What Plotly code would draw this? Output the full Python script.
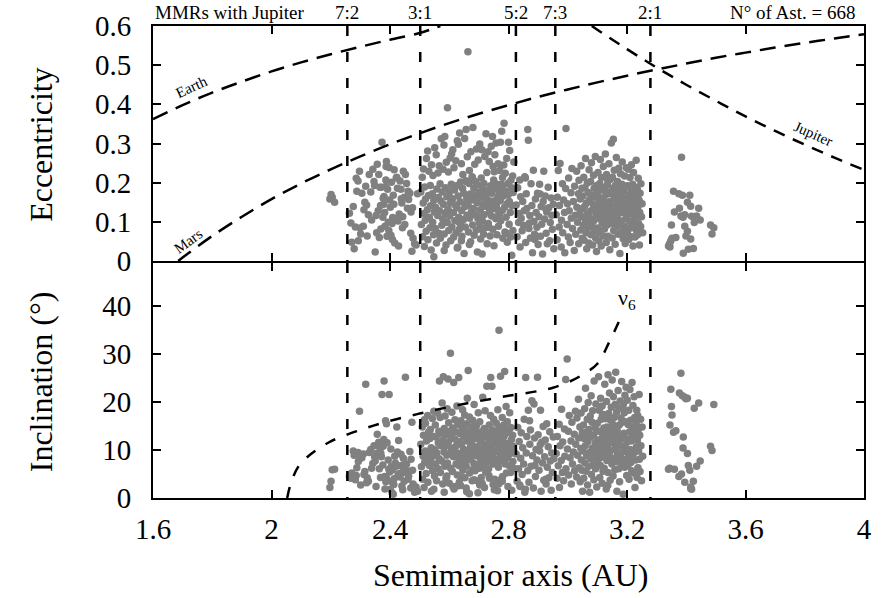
import numpy as np
import plotly.graph_objects as go

# ---------------------------------------------------------------------------
# Asteroid orbital elements, by region of the main belt.
# a in units of 0.001 AU, e in units of 0.001, i in units of 0.1 degree.
# ---------------------------------------------------------------------------
a_hun = [2197, 2201, 2213, 2205]
e_hun = [158, 170, 150, 163]
i_hun = [22, 35, 60, 59]

a_inner = [2263, 2271, 2283, 2297, 2305, 2318, 2330, 2342, 2357, 2366,
           2373, 2380, 2388, 2397, 2405, 2413, 2423, 2431, 2445, 2452,
           2467, 2474, 2488, 2268, 2279, 2292, 2310, 2323, 2338, 2350,
           2362, 2371, 2377, 2385, 2392, 2401, 2409, 2418, 2427, 2437,
           2448, 2459, 2471, 2483, 2276, 2288, 2301, 2315, 2327, 2346,
           2355, 2368, 2376, 2383, 2390, 2399, 2407, 2416, 2434, 2442,
           2456, 2463, 2478, 2493, 2286, 2299, 2312, 2335, 2353, 2364,
           2379, 2386, 2394, 2403, 2411, 2421, 2440, 2450, 2461, 2476,
           2293, 2321, 2348, 2369, 2382, 2396, 2414, 2429, 2443, 2470,
           2360, 2387, 2408, 2425, 2438]
e_inner = [122, 48, 87, 229, 173, 191, 221, 234, 247, 188,
           303, 165, 254, 239, 201, 145, 214, 120, 229, 221,
           173, 25, 41, 97, 31, 204, 89, 64, 105, 23,
           221, 188, 160, 190, 183, 137, 111, 105, 102, 183,
           163, 135, 125, 44, 139, 178, 69, 150, 118, 203,
           72, 142, 112, 89, 63, 156, 96, 46, 204, 85,
           198, 157, 58, 172, 211, 84, 131, 176, 116, 60,
           145, 207, 99, 66, 168, 212, 148, 93, 178, 136,
           52, 143, 193, 82, 124, 78, 233, 38, 113, 71,
           128, 241, 55, 186, 159]
i_inner = [45, 52, 38, 181, 84, 237, 95, 72, 133, 104,
           216, 244, 155, 216, 66, 28, 148, 51, 83, 252,
           97, 158, 23, 41, 89, 95, 92, 42, 62, 77,
           116, 86, 108, 161, 37, 18, 59, 73, 48, 91,
           35, 57, 81, 12, 98, 63, 27, 55, 35, 109,
           93, 43, 69, 19, 115, 54, 11, 87, 44, 65,
           71, 46, 29, 14, 47, 83, 49, 101, 24, 61,
           122, 34, 79, 102, 8, 66, 25, 53, 39, 58,
           76, 32, 86, 94, 45, 60, 40, 120, 17, 21,
           110, 44, 33, 96, 68]

a_middle = [2504, 2506, 2509, 2510, 2512, 2513, 2515, 2516, 2517, 2519,
            2520, 2522, 2523, 2526, 2527, 2528, 2530, 2531, 2533, 2535,
            2536, 2537, 2539, 2540, 2543, 2544, 2545, 2547, 2548, 2550,
            2551, 2553, 2554, 2556, 2557, 2558, 2561, 2562, 2563, 2565,
            2566, 2567, 2569, 2570, 2572, 2573, 2575, 2576, 2578, 2579,
            2580, 2582, 2583, 2585, 2586, 2587, 2589, 2590, 2592, 2593,
            2594, 2596, 2597, 2598, 2600, 2601, 2603, 2604, 2605, 2607,
            2608, 2609, 2611, 2612, 2614, 2615, 2616, 2618, 2619, 2620,
            2622, 2623, 2624, 2626, 2627, 2629, 2630, 2631, 2632, 2634,
            2635, 2637, 2638, 2639, 2641, 2642, 2643, 2645, 2646, 2648,
            2649, 2650, 2652, 2653, 2654, 2656, 2657, 2659, 2660, 2661,
            2663, 2664, 2665, 2667, 2668, 2669, 2671, 2672, 2673, 2675,
            2676, 2677, 2679, 2680, 2682, 2683, 2684, 2686, 2687, 2688,
            2690, 2691, 2692, 2694, 2695, 2697, 2698, 2699, 2701, 2702,
            2703, 2705, 2706, 2708, 2709, 2710, 2712, 2713, 2714, 2716,
            2717, 2718, 2720, 2721, 2723, 2724, 2725, 2727, 2728, 2729,
            2731, 2732, 2733, 2735, 2736, 2738, 2739, 2740, 2742, 2743,
            2744, 2746, 2747, 2748, 2750, 2751, 2753, 2754, 2755, 2757,
            2758, 2759, 2761, 2762, 2764, 2765, 2766, 2768, 2769, 2770,
            2772, 2773, 2774, 2776, 2777, 2779, 2780, 2781, 2783, 2784,
            2785, 2787, 2788, 2789, 2791, 2792, 2794, 2795, 2796, 2798,
            2799, 2800, 2802, 2803, 2804, 2806, 2807, 2808, 2810, 2811,
            2812, 2814, 2815, 2816, 2818, 2548, 2583, 2627, 2668, 2711,
            2592, 2634, 2657, 2684, 2703, 2736, 2752, 2767, 2779, 2793,
            2612, 2641, 2659, 2678, 2697, 2719, 2734, 2748, 2763, 2776]
e_middle = [176, 93, 214, 62, 148, 235, 121, 37, 189, 104,
            158, 76, 262, 131, 281, 54, 167, 229, 112, 85,
            193, 141, 28, 246, 172, 99, 218, 67, 155, 125,
            289, 83, 137, 271, 46, 184, 116, 225, 162, 71,
            243, 128, 197, 58, 153, 312, 91, 176, 107, 234,
            145, 296, 69, 318, 122, 187, 41, 252, 164, 98,
            391, 133, 227, 78, 174, 115, 263, 149, 52, 196,
            273, 87, 159, 284, 124, 61, 238, 181, 103, 143,
            256, 72, 192, 136, 307, 35, 166, 298, 112, 81,
            327, 151, 202, 94, 248, 129, 63, 185, 221, 106,
            173, 19, 313, 139, 87, 205, 336, 161, 117, 266,
            534, 142, 74, 198, 231, 109, 171, 49, 279, 126,
            156, 215, 92, 341, 134, 186, 66, 247, 118, 203,
            168, 79, 286, 149, 23, 194, 258, 113, 175, 97,
            299, 131, 56, 212, 162, 284, 102, 183, 144, 68,
            198, 118, 267, 85, 171, 325, 139, 226, 44, 157,
            279, 96, 181, 254, 126, 64, 192, 147, 293, 115,
            173, 318, 81, 153, 207, 39, 134, 271, 186, 108,
            301, 142, 67, 196, 163, 248, 89, 177, 119, 231,
            154, 303, 103, 187, 331, 129, 213, 58, 166, 245,
            352, 137, 74, 224, 179, 112, 262, 146, 48, 198,
            169, 303, 94, 152, 282, 124, 61, 206, 187, 15,
            141, 217, 78, 175, 253, 11, 27, 33, 42, 18,
            126, 98, 203, 162, 82, 135, 228, 117, 191, 71,
            184, 52, 147, 213, 108, 169, 86, 241, 131, 196]
i_middle = [112, 65, 148, 39, 87, 131, 22, 163, 74, 98,
            156, 51, 119, 84, 172, 33, 137, 92, 68, 124,
            143, 78, 105, 14, 166, 57, 129, 88, 181, 46,
            101, 152, 71, 127, 36, 94, 177, 61, 115, 139,
            82, 244, 168, 53, 109, 135, 77, 198, 29, 121,
            253, 96, 145, 66, 171, 108, 41, 132, 89, 186,
            73, 248, 117, 157, 31, 139, 94, 302, 62, 128,
            104, 179, 55, 146, 86, 241, 19, 123, 163, 97,
            138, 71, 109, 192, 48, 154, 84, 118, 251, 67,
            93, 134, 26, 161, 113, 75, 147, 184, 58, 102,
            127, 87, 173, 42, 141, 98, 66, 155, 119, 208,
            79, 266, 136, 94, 169, 52, 125, 107, 83, 148,
            114, 36, 162, 91, 133, 72, 195, 104, 57, 143,
            88, 124, 151, 69, 107, 11, 178, 96, 135, 62,
            159, 82, 117, 43, 138, 101, 74, 210, 126, 92,
            68, 145, 106, 182, 54, 129, 88, 233, 113, 76,
            137, 95, 61, 152, 118, 84, 172, 251, 103, 128,
            233, 89, 142, 71, 164, 112, 39, 97, 136, 81,
            119, 156, 72, 98, 184, 127, 64, 350, 109, 146,
            91, 254, 77, 134, 103, 168, 45, 117, 87, 152,
            128, 264, 96, 71, 143, 191, 108, 83, 159, 24,
            114, 89, 136, 67, 178, 102, 53, 147, 122, 16,
            94, 131, 76, 108, 62, 18, 12, 25, 9, 31,
            46, 33, 21, 38, 27, 41, 17, 29, 35, 52,
            24, 44, 13, 59, 35, 22, 47, 28, 15, 39]

a_pristine = [2826, 2829, 2831, 2834, 2836, 2839, 2841, 2843, 2846, 2848,
              2851, 2853, 2855, 2858, 2860, 2862, 2865, 2867, 2869, 2872,
              2874, 2876, 2879, 2881, 2884, 2886, 2888, 2891, 2893, 2896,
              2898, 2900, 2903, 2905, 2908, 2910, 2912, 2915, 2917, 2919,
              2922, 2924, 2927, 2929, 2931, 2934, 2936, 2939, 2941, 2944,
              2946, 2948, 2951, 2953, 2838, 2857, 2871, 2889, 2907, 2926]
e_pristine = [143, 62, 187, 98, 121, 36, 164, 109, 77, 152,
              91, 128, 215, 47, 172, 134, 336, 308, 83, 116,
              59, 197, 142, 21, 232, 101, 68, 158, 124, 86,
              173, 42, 113, 196, 63, 139, 94, 18, 152, 229,
              107, 166, 71, 125, 44, 188, 136, 52, 98, 161,
              117, 81, 145, 31, 207, 212, 97, 55, 171, 133]
i_pristine = [92, 35, 147, 61, 118, 24, 83, 136, 49, 105,
              71, 164, 12, 251, 94, 128, 57, 183, 33, 112,
              142, 66, 203, 88, 21, 196, 125, 45, 101, 79,
              252, 132, 58, 98, 183, 14, 116, 73, 149, 37,
              86, 121, 29, 155, 64, 107, 42, 138, 77, 16,
              94, 53, 127, 82, 27, 18, 161, 68, 111, 39]

a_outer = [2961, 2964, 2965, 2968, 2971, 2972, 2974, 2978, 2979, 2982, 2983, 2986, 2989, 2990, 2993,
           2994, 2998, 2999, 3002, 3003, 3005, 3008, 3011, 3012, 3014, 3016, 3019, 3022, 3023, 3026,
           3027, 3030, 3031, 3033, 3036, 3037, 3038, 3041, 3042, 3044, 3045, 3046, 3048, 3049, 3050,
           3051, 3053, 3054, 3055, 3057, 3058, 3059, 3060, 3062, 3063, 3064, 3066, 3067, 3068, 3069,
           3071, 3072, 3073, 3074, 3076,
           3077, 3078, 3079, 3080, 3082, 3083, 3084, 3086, 3087, 3088, 3089, 3090, 3092, 3093, 3094,
           3095, 3096, 3097, 3098, 3099,
           3100, 3102, 3102, 3104, 3105, 3106, 3108, 3108, 3110, 3111, 3112, 3113, 3114, 3116, 3116,
           3118, 3119, 3120, 3121, 3122,
           3123, 3124, 3125, 3127, 3127, 3129, 3130, 3131, 3132, 3133, 3134, 3136, 3136, 3138, 3139,
           3140, 3141, 3142, 3143, 3145,
           3145, 3147, 3147, 3149, 3150, 3151, 3152, 3153, 3154, 3155, 3157, 3157, 3159, 3160, 3161,
           3162, 3163, 3164, 3165, 3166,
           3167, 3168, 3170, 3170, 3172, 3173, 3174, 3175, 3176, 3177, 3178, 3180, 3181, 3182, 3183,
           3184, 3185, 3187, 3188, 3189,
           3190, 3191, 3192, 3193, 3194, 3195, 3196, 3197, 3198, 3199, 3186, 3179, 3158, 3135, 3117,
           3200, 3201, 3203, 3204, 3205, 3206, 3207, 3209, 3210, 3211, 3212, 3213, 3215, 3216, 3217,
           3218, 3219, 3220, 3221, 3222, 3224, 3225, 3226, 3227, 3228, 3229, 3231, 3232, 3233, 3234,
           3235, 3236, 3237, 3238, 3239, 3241, 3242, 3243, 3244, 3246, 3247, 3249, 3251, 3253, 3214]
e_outer = [118, 54, 163, 231, 87, 142, 249, 36, 104, 197, 72, 156, 124, 21, 185,
           338, 93, 146, 61, 212, 128, 47, 174, 109, 236, 83, 152, 27, 191, 117,
           68, 229, 137, 99, 172, 44, 206, 121, 158, 79, 243, 113, 186, 58, 134,
           166, 91, 214, 53, 139, 187, 106, 262, 72, 148, 31, 199, 122, 85, 175,
           46, 233, 112, 157, 97,
           203, 67, 128, 251, 89, 168, 41, 144, 219, 103, 186, 76, 131, 267, 59,
           162, 118, 24, 193, 138,
           84, 175, 226, 109, 52, 147, 198, 73, 259, 126, 161, 38, 213, 97, 182,
           131, 64, 241, 115, 153,
           187, 82, 136, 273, 104, 169, 47, 221, 143, 92, 195, 122, 63, 176, 248,
           109, 151, 29, 208, 133,
           96, 171, 301, 138, 59, 214, 117, 186, 311, 78, 159, 232, 105, 43, 193,
           142, 87, 264, 125, 174,
           112, 203, 68, 156, 237, 91, 184, 131, 19, 167, 223, 102, 148, 74, 196,
           253, 123, 57, 178, 139,
           161, 88, 217, 129, 45, 191, 107, 152, 238, 71, 132, 183, 96, 206, 114,
           146, 73, 192, 118, 234, 55, 167, 101, 213, 136, 84, 179, 246, 62, 154,
           121, 196, 38, 143, 226, 93, 171, 109, 61, 188, 134, 257, 78, 159, 114,
           182, 67, 139, 211, 96, 155, 41, 124, 173, 88, 197, 113, 146, 72, 128]
i_outer = [93, 41, 128, 67, 154, 22, 109, 78, 185, 53, 117, 36, 144, 87, 247,
           61, 290, 102, 139, 48, 172, 84, 119, 29, 158, 71, 96, 133, 57, 181,
           112, 44, 167, 89, 206, 125, 63, 148, 34, 103, 177, 79, 58, 136, 14,
           98, 152, 41, 124, 186, 73, 109, 229, 56, 137, 88, 164, 27, 118, 199,
           66, 143, 95, 12, 171,
           127, 82, 213, 49, 158, 104, 182, 69, 131, 38, 244, 92, 147, 115, 61,
           196, 83, 139, 23, 108,
           156, 74, 121, 253, 97, 183, 43, 139, 68, 208, 112, 164, 85, 31, 192,
           129, 56, 174, 101, 146,
           62, 118, 237, 91, 165, 134, 19, 201, 78, 148, 109, 257, 53, 176, 124,
           88, 219, 142, 37, 162,
           99, 189, 131, 71, 246, 115, 154, 46, 211, 83, 137, 168, 59, 195, 104,
           262, 127, 76, 179, 14,
           141, 93, 224, 116, 61, 187, 152, 34, 129, 202, 86, 167, 108, 243, 72,
           158, 123, 8, 196, 97,
           135, 178, 64, 214, 106, 159, 81, 231, 123, 47, 188, 94, 145, 26, 172,
           117, 204, 67, 153, 92, 183, 39, 138, 226, 101, 162, 74, 119, 57, 241,
           86, 147, 193, 52, 128, 211, 95, 168, 22, 134, 79, 156, 107, 183, 43,
           121, 172, 63, 143, 98, 216, 81, 131, 55, 164, 109, 36, 148, 87, 125]

a_cybele = [3340, 3344, 3345, 3348, 3350, 3352, 3357, 3360, 3365, 3375, 3377, 3382,
            3384, 3387, 3389, 3390, 3395, 3395, 3399, 3404, 3404, 3407, 3412, 3415,
            3415, 3418, 3424, 3427, 3435, 3442, 3447, 3482, 3487, 3493]
e_cybele = [38, 45, 36, 52, 92, 58, 178, 125, 60, 172, 135, 115,
            265, 168, 112, 20, 118, 89, 64, 150, 76, 30, 168, 140,
            56, 114, 32, 98, 115, 135, 105, 92, 69, 85]
i_cybele = [60, 62, 152, 227, 191, 173, 137, 60, 140, 45, 219, 260,
            50, 213, 104, 127, 33, 210, 207, 208, 93, 68, 58, 20,
            23, 18, 35, 187, 66, 198, 77, 108, 99, 195]

# Mean-motion resonances with Jupiter
mmr_labels = ["7:2", "3:1", "5:2", "7:3", "2:1"]
mmr_a = [2.256, 2.502, 2.825, 2.958, 3.279]

# Planet-crossing boundaries (a in AU, e)
earth_a = [1.60, 1.70, 1.80, 1.90, 2.00, 2.10, 2.20, 2.30, 2.40, 2.50, 2.57]
earth_e = [0.362, 0.398, 0.430, 0.458, 0.484, 0.507, 0.528, 0.547, 0.565, 0.582, 0.600]
mars_a = [1.685, 1.70, 1.80, 1.90, 2.00, 2.10, 2.20, 2.30, 2.40, 2.50, 2.60, 2.70, 2.80,
          2.90, 3.00, 3.10, 3.20, 3.30, 3.40, 3.50, 3.60, 3.70, 3.80, 3.90, 4.00]
mars_e = [0.000, 0.009, 0.064, 0.113, 0.158, 0.198, 0.234, 0.267, 0.298, 0.326, 0.352, 0.376,
          0.398, 0.419, 0.438, 0.456, 0.473, 0.489, 0.504, 0.519, 0.532, 0.545, 0.557,
          0.568, 0.579]
jup_a = [3.081, 3.20, 3.30, 3.40, 3.50, 3.60, 3.70, 3.80, 3.90, 4.00]
jup_e = [0.600, 0.541, 0.494, 0.450, 0.409, 0.369, 0.332, 0.297, 0.264, 0.2325]

# nu6 secular resonance (a in AU, i in degrees)
nu6_a = [2.053, 2.065, 2.09, 2.13, 2.20, 2.30, 2.40, 2.50, 2.60, 2.70, 2.80, 2.90,
         2.95, 3.00, 3.05, 3.10, 3.14, 3.18]
nu6_i = [0.0, 3.0, 6.5, 9.0, 11.8, 14.2, 16.1, 17.6, 19.0, 20.2, 21.3, 22.3,
         23.0, 24.1, 25.7, 28.0, 32.5, 37.8]

x_ticks = [1.6, 2.0, 2.4, 2.8, 3.2, 3.6, 4.0]
x_ticktext = ["1.6", "2", "2.4", "2.8", "3.2", "3.6", "4"]
e_ticks = [0, 0.1, 0.2, 0.3, 0.4, 0.5, 0.6]
e_ticktext = ["0", "0.1", "0.2", "0.3", "0.4", "0.5", "0.6"]
i_ticks = [0, 10, 20, 30, 40]

# ---------------------------------------------------------------------------
groups = [(a_hun, e_hun, i_hun), (a_inner, e_inner, i_inner),
          (a_middle, e_middle, i_middle), (a_pristine, e_pristine, i_pristine),
          (a_outer, e_outer, i_outer), (a_cybele, e_cybele, i_cybele)]
for ga, ge, gi in groups:
    assert len(ga) == len(ge) == len(gi)
a_all = np.concatenate([np.array(g[0]) for g in groups]) / 1000.0
e_all = np.concatenate([np.array(g[1]) for g in groups]) / 1000.0
i_all = np.concatenate([np.array(g[2]) for g in groups]) / 10.0
n_ast = len(a_all)

FONT = "Liberation Serif"
GRAY = "#808080"
fig = go.Figure()

marker = dict(color=GRAY, size=7.5, line=dict(width=0))
fig.add_trace(go.Scatter(x=a_all, y=e_all, mode="markers", marker=marker,
                         xaxis="x", yaxis="y", showlegend=False))
fig.add_trace(go.Scatter(x=a_all, y=i_all, mode="markers", marker=marker,
                         xaxis="x2", yaxis="y2", showlegend=False))

# resonance lines in both panels
for a_res in mmr_a:
    fig.add_trace(go.Scatter(x=[a_res, a_res], y=[0.6, 0], mode="lines",
                             line=dict(color="black", width=2.5, dash="10px,16px"),
                             xaxis="x", yaxis="y", showlegend=False))
    fig.add_trace(go.Scatter(x=[a_res, a_res], y=[49, 0], mode="lines",
                             line=dict(color="black", width=2.5, dash="10px,16px"),
                             xaxis="x2", yaxis="y2", showlegend=False))

for cx, cy, dash in [(earth_a, earth_e, "16px,9px"), (mars_a, mars_e, "16px,9px"),
                     (jup_a, jup_e, "12px,9px")]:
    fig.add_trace(go.Scatter(x=cx, y=cy, mode="lines", line_shape="spline",
                             line=dict(color="black", width=2.5, dash=dash),
                             xaxis="x", yaxis="y", showlegend=False))
fig.add_trace(go.Scatter(x=nu6_a, y=nu6_i, mode="lines", line_shape="spline",
                         line=dict(color="black", width=2.5, dash="11px,12px"),
                         xaxis="x2", yaxis="y2", showlegend=False))

axis_common = dict(showline=True, linecolor="black", linewidth=2, mirror="ticks",
                   ticks="inside", ticklen=8, tickwidth=1.5, tickcolor="black",
                   showgrid=False, zeroline=False,
                   tickfont=dict(family=FONT, size=29, color="black"))

# the two panels share one boundary line: offset each domain by one line half-width
PLOT_H = 598 - 26 - 100
half = 1.0 / PLOT_H
fig.update_layout(
    width=882, height=598,
    margin=dict(l=153, r=10, t=26, b=100),
    paper_bgcolor="white", plot_bgcolor="white",
    xaxis=dict(domain=[0, 1], anchor="y", range=[1.6, 4.0], tickvals=x_ticks,
               showticklabels=False, **axis_common),
    yaxis=dict(domain=[0.5 + half, 1], anchor="x", range=[0, 0.6], tickvals=e_ticks,
               ticktext=e_ticktext, ticklabelstandoff=14, **axis_common),
    xaxis2=dict(domain=[0, 1], anchor="y2", range=[1.6, 4.0], tickvals=x_ticks,
                ticktext=x_ticktext, ticklabelstandoff=4, **axis_common),
    yaxis2=dict(domain=[0, 0.5 - half], anchor="x2", range=[0, 49], tickvals=i_ticks,
                ticklabelstandoff=14, **axis_common),
)

ann = []
small = dict(family=FONT, size=19, color="black")
ann.append(dict(text="MMRs with Jupiter", xref="paper", yref="paper", x=0, y=1.028,
                xanchor="left", yanchor="middle", showarrow=False, font=small))
ann.append(dict(text=f"N° of Ast. = {n_ast}", xref="paper", yref="paper", x=0.99, y=1.028,
                xanchor="right", yanchor="middle", showarrow=False, font=small))
for lab, a_res in zip(mmr_labels, mmr_a):
    ann.append(dict(text=lab, xref="x", yref="paper", x=a_res, y=1.028,
                    xanchor="center", yanchor="middle", showarrow=False, font=small))

curve_font = dict(family=FONT, size=15, color="black")
ann.append(dict(text="Earth", xref="x", yref="y", x=1.73, y=0.445, textangle=-25,
                showarrow=False, font=curve_font))
ann.append(dict(text="Mars", xref="x", yref="y", x=1.72, y=0.05, textangle=-36,
                showarrow=False, font=curve_font))
ann.append(dict(text="Jupiter", xref="x", yref="y", x=3.83, y=0.325, textangle=24,
                showarrow=False, font=curve_font))
ann.append(dict(text="ν<sub>6</sub>", xref="x2", yref="y2", x=3.2, y=41.5,
                showarrow=False, font=dict(family=FONT, size=22, color="black")))

title_font = dict(family=FONT, size=32, color="black")
ann.append(dict(text="Eccentricity", xref="paper", yref="paper", x=-0.157, y=0.749,
                textangle=-90, showarrow=False, font=title_font,
                xanchor="center", yanchor="middle"))
ann.append(dict(text="Inclination (°)", xref="paper", yref="paper", x=-0.157, y=0.246,
                textangle=-90, showarrow=False, font=title_font,
                xanchor="center", yanchor="middle"))
ann.append(dict(text="Semimajor axis (AU)", xref="paper", yref="paper", x=0.503, y=-0.164,
                showarrow=False, font=title_font, xanchor="center", yanchor="middle"))
fig.update_layout(annotations=ann)

fig.write_html("out.html")
